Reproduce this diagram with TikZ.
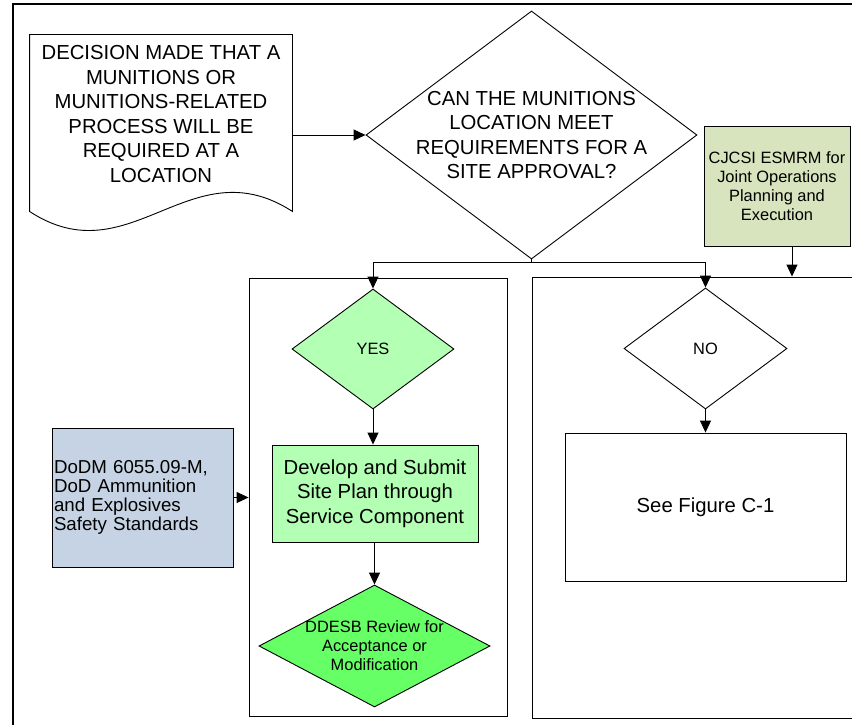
\documentclass[tikz,border=0pt]{standalone}
\usepackage{fontspec}
\setmainfont{Liberation Sans}
\usetikzlibrary{shapes.geometric,arrows.meta,calc}
\definecolor{cjfill}{HTML}{D7E4BD}
\definecolor{yesfill}{HTML}{B3FFB3}
\definecolor{ddfill}{HTML}{66FF66}
\definecolor{dodfill}{HTML}{C6D3E4}
\begin{document}
\begin{tikzpicture}[x=1pt,y=-1pt,
  line width=0.9pt,
  arr/.style={-{Triangle[length=12pt,width=11pt]}},
  box/.style={draw,rectangle,inner sep=0pt,align=center},
  dia/.style={draw,diamond,inner sep=0pt},
  bigtxt/.style={font=\fontsize{20.3}{24.5}\selectfont},
  smalltxt/.style={font=\fontsize{16.4}{19}\selectfont},
  dodtxt/.style={font=\fontsize{18.7}{19}\selectfont},
  frame/.style={line width=2pt}
]
\useasboundingbox (0,0) rectangle (852,725);
\clip (0,0) rectangle (852,725);
\fill[white] (0,0) rectangle (852,725);

% outer frame (only top and left visible)
\draw[frame] (13,760) -- (13,4) -- (900,4);

% containers
\node[box, minimum width=258pt, minimum height=438pt] (lc) at (378,497) {};
\node[box, minimum width=368pt, minimum height=441pt] (rc) at (716,497.5) {};

% document shape
\node[inner sep=0pt, minimum width=262pt, minimum height=176pt,
      label={[bigtxt,align=center,yshift=9pt]center:{DECISION MADE THAT A\\MUNITIONS OR\\MUNITIONS-RELATED\\PROCESS WILL BE\\REQUIRED AT A\\LOCATION}}] (doc) at (161,123) {};
\draw (doc.north west) -- (doc.north east) -- (doc.south east)
  .. controls ($(doc.south east)+(-102,-66)$) and ($(doc.south east)+(-162,66)$) .. (doc.south west) -- cycle;

% main decision
\node[dia, minimum width=331pt, minimum height=248pt,
      label={[bigtxt,align=center]center:{CAN THE MUNITIONS\\LOCATION MEET\\REQUIREMENTS FOR A\\SITE APPROVAL?}}] (d1) at (531.5,135) {};

% CJCSI box
\node[box, fill=cjfill, minimum width=146pt, minimum height=120pt, smalltxt] (cj) at (777,186) {CJCSI ESMRM for\\Joint Operations\\Planning and\\Execution};

% YES branch
\node[dia, fill=yesfill, minimum width=162pt, minimum height=120pt,
      label={[smalltxt]center:YES}] (yes) at (373,349) {};
\node[box, fill=yesfill, minimum width=206pt, minimum height=97pt, bigtxt] (dev) at (375,493.5) {Develop and Submit\\Site Plan through\\Service Component};
\node[dia, fill=ddfill, minimum width=231pt, minimum height=122pt,
      label={[smalltxt,align=center]center:{DDESB Review for\\Acceptance or\\Modification}}] (dd) at (374.5,646) {};

% DoDM box
\node[draw, rectangle, fill=dodfill, minimum width=181pt, minimum height=139pt,
      inner xsep=2pt, inner ysep=0pt, text width=177pt, align=left, dodtxt] (dod) at (142.5,497.5) {DoDM 6055.09-M,\\DoD Ammunition\\and Explosives\\Safety Standards};

% NO branch
\node[dia, fill=white, minimum width=163pt, minimum height=121pt,
      label={[smalltxt]center:NO}] (no) at (705.5,348.5) {};
\node[box, minimum width=281pt, minimum height=148pt, bigtxt] (see) at (705.5,507) {See Figure C-1};

% connectors
\draw[arr] (doc.east |- d1.west) -- (d1.west);
\coordinate (split) at ($(d1.south)+(0,3)$);
\draw (d1.south) -- (split);
\draw[arr] (split) -| (yes.north);
\draw[arr] (split) -| (no.north);
\coordinate (cjout) at ($(cj.south)+(15,0)$);
\draw[arr] (cjout) -- (cjout |- rc.north);
\draw[arr] (yes.south) -- (yes.south |- dev.north);
\draw[arr] (dev.south -| dd.north) -- (dd.north);
\draw[arr] (dod.east) -- (dod.east -| lc.west);
\draw[arr] (no.south) -- (no.south |- see.north);
\end{tikzpicture}
\end{document}
